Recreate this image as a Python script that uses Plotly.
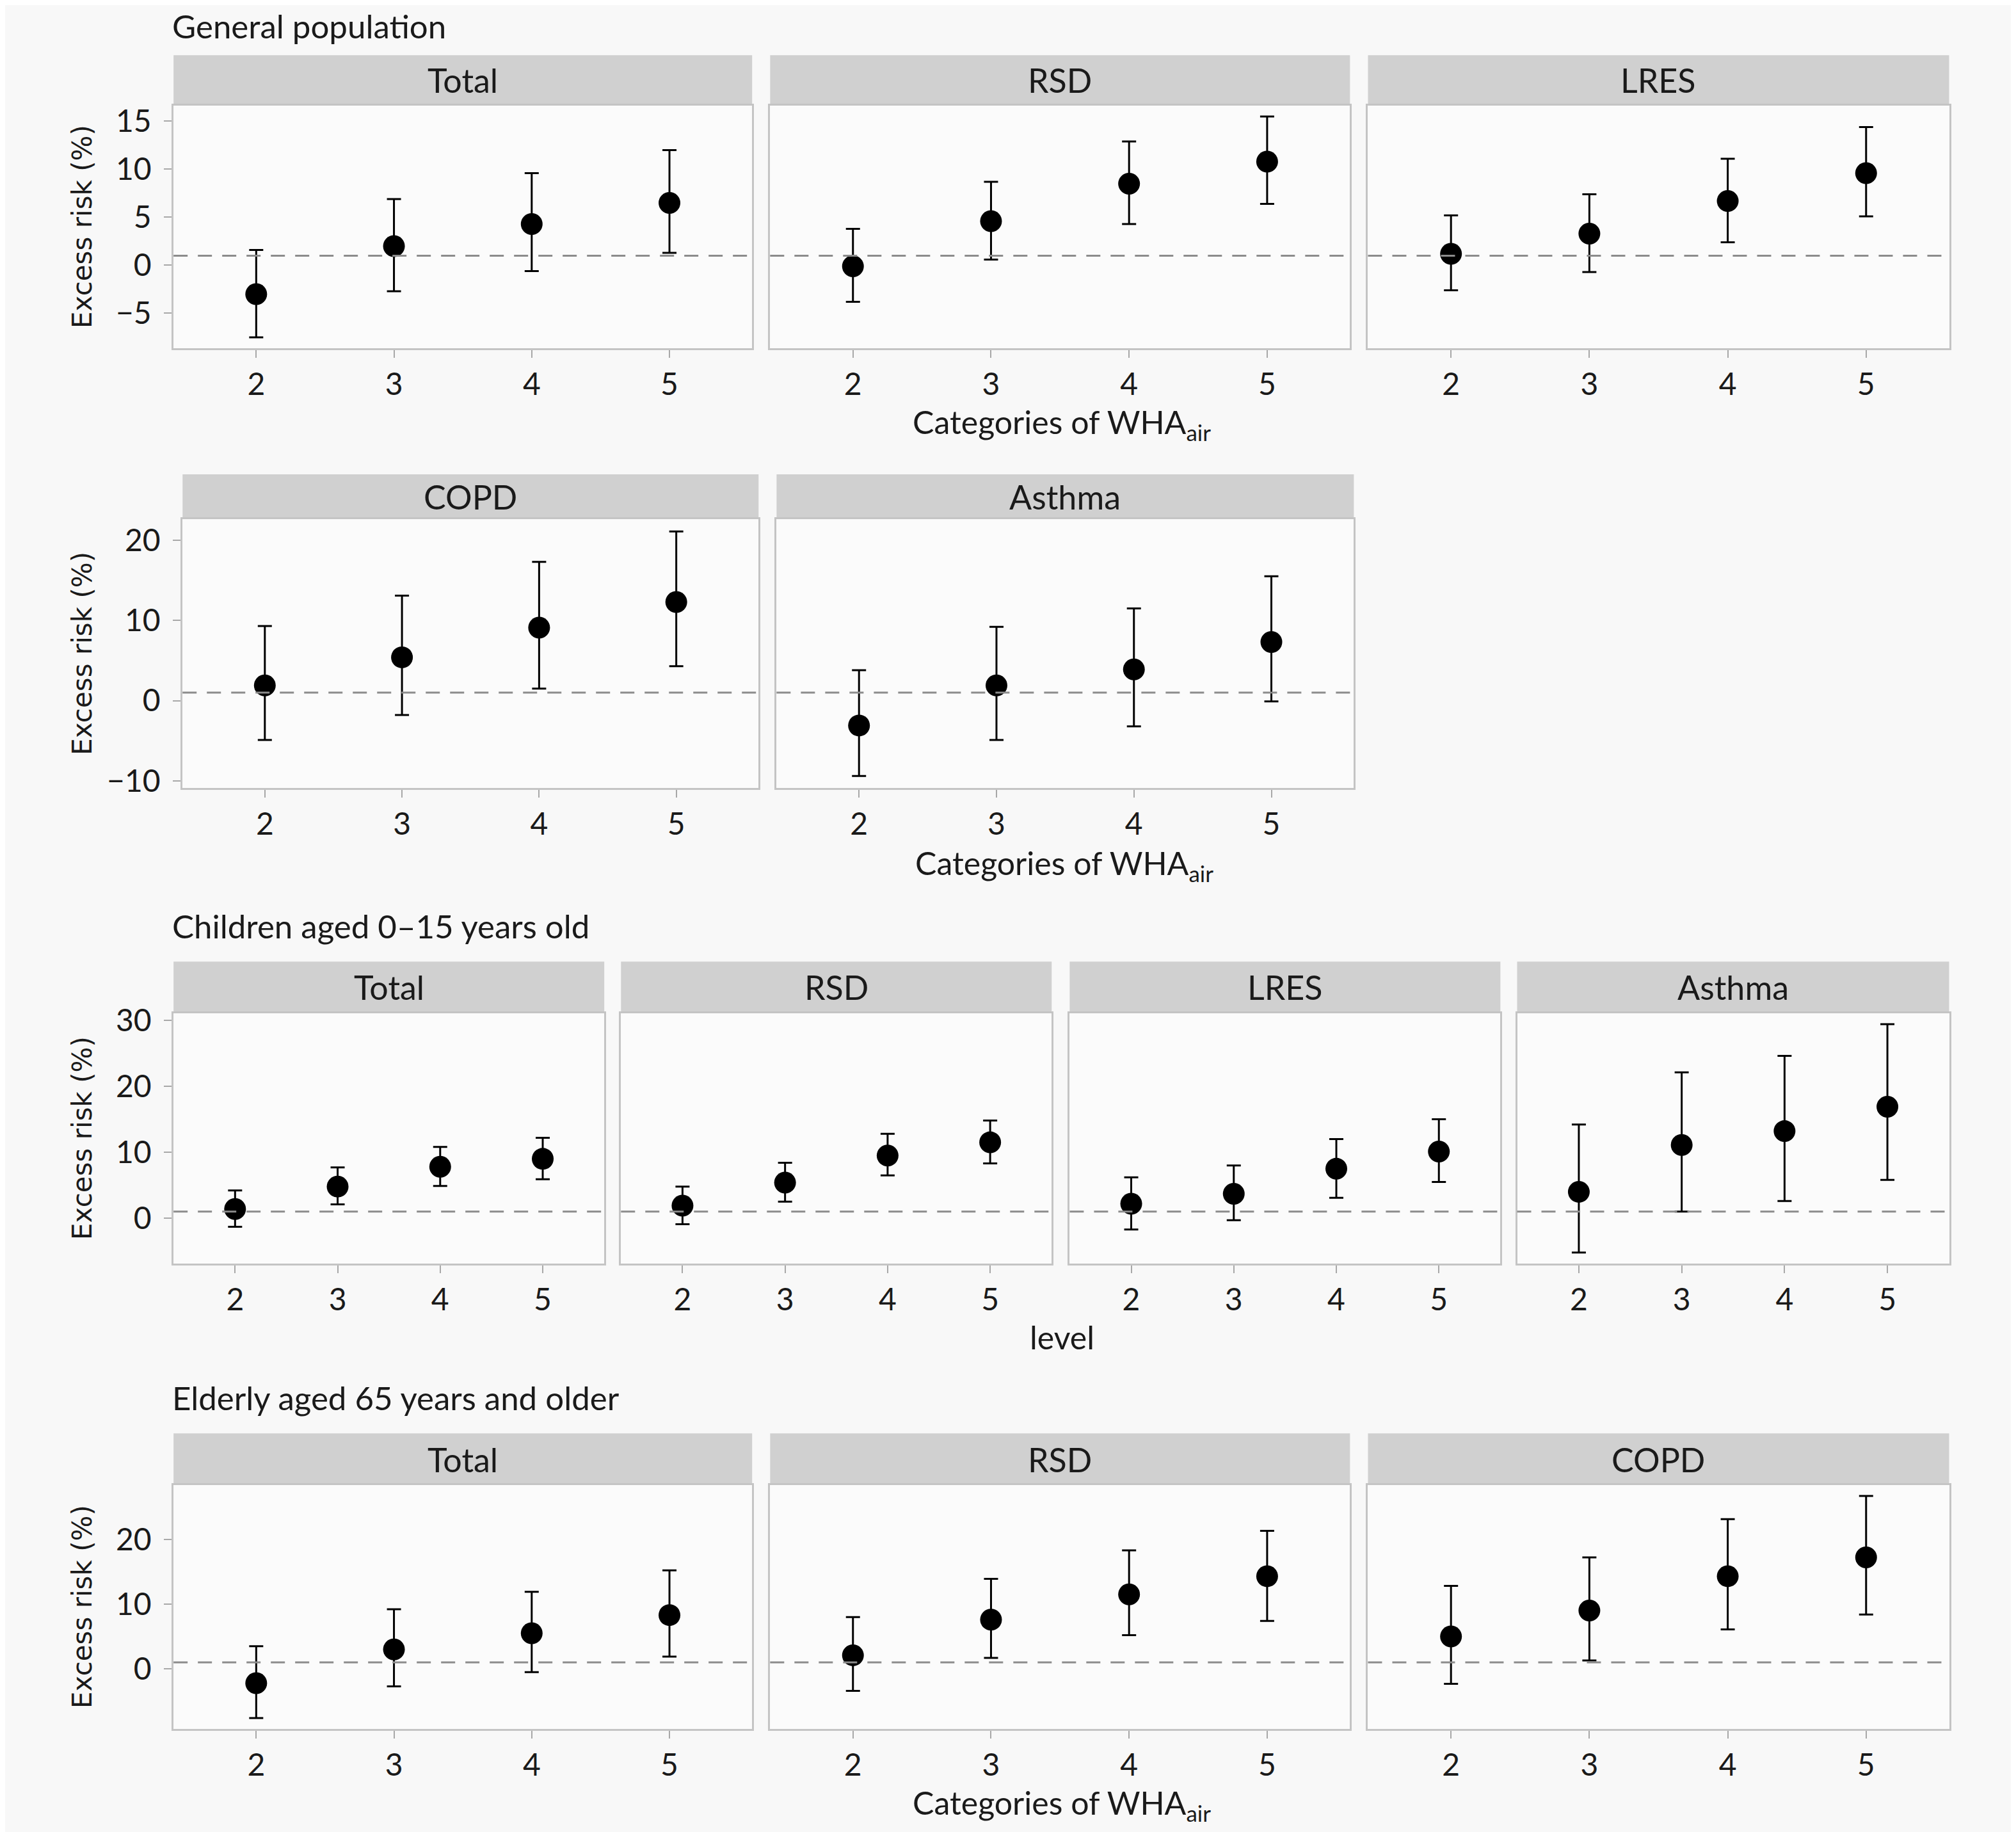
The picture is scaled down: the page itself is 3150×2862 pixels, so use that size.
import plotly.graph_objects as go

levels = [2, 3, 4, 5]

# General population
gen_total = [-3.0, 2.0, 4.3, 6.5]
gen_total_lo = [-7.5, -2.7, -0.6, 1.3]
gen_total_hi = [1.6, 6.9, 9.6, 12.0]
gen_rsd = [-0.1, 4.6, 8.5, 10.8]
gen_rsd_lo = [-3.8, 0.6, 4.3, 6.4]
gen_rsd_hi = [3.8, 8.7, 12.9, 15.5]
gen_lres = [1.2, 3.3, 6.7, 9.6]
gen_lres_lo = [-2.6, -0.7, 2.4, 5.1]
gen_lres_hi = [5.2, 7.4, 11.1, 14.4]
gen_copd = [1.9, 5.4, 9.1, 12.3]
gen_copd_lo = [-4.9, -1.8, 1.5, 4.3]
gen_copd_hi = [9.3, 13.1, 17.3, 21.1]
gen_asthma = [-3.1, 1.9, 3.9, 7.3]
gen_asthma_lo = [-9.4, -4.9, -3.2, -0.1]
gen_asthma_hi = [3.8, 9.2, 11.5, 15.5]

# Children aged 0-15
chi_total = [1.4, 4.8, 7.8, 9.0]
chi_total_lo = [-1.3, 2.1, 4.9, 5.9]
chi_total_hi = [4.2, 7.7, 10.8, 12.2]
chi_rsd = [1.9, 5.4, 9.5, 11.5]
chi_rsd_lo = [-0.9, 2.5, 6.5, 8.3]
chi_rsd_hi = [4.8, 8.4, 12.8, 14.8]
chi_lres = [2.2, 3.7, 7.5, 10.1]
chi_lres_lo = [-1.7, -0.3, 3.1, 5.5]
chi_lres_hi = [6.2, 8.0, 12.0, 15.0]
chi_asthma = [4.0, 11.1, 13.2, 16.9]
chi_asthma_lo = [-5.2, 1.0, 2.6, 5.8]
chi_asthma_hi = [14.2, 22.1, 24.6, 29.4]

# Elderly 65+
eld_total = [-2.2, 3.0, 5.5, 8.3]
eld_total_lo = [-7.6, -2.7, -0.5, 1.9]
eld_total_hi = [3.5, 9.2, 11.9, 15.2]
eld_rsd = [2.1, 7.6, 11.5, 14.3]
eld_rsd_lo = [-3.4, 1.7, 5.2, 7.4]
eld_rsd_hi = [8.0, 13.9, 18.3, 21.3]
eld_copd = [5.0, 9.0, 14.3, 17.2]
eld_copd_lo = [-2.3, 1.3, 6.1, 8.4]
eld_copd_hi = [12.8, 17.2, 23.1, 26.7]

ref_line = 1

# layout measured on a 1568 x 1425 grid, shifted 4 units for the page margin
W0, H0 = 1568, 1425
def px(x):
    return (x - 4) / W0
def py(y):
    return 1 - (y - 4) / H0

rows = [
    dict(strip=43, top=82, bot=271, yr=[-8.65, 16.65], dtick=5,
         panels=[((135, 585), "Total", gen_total, gen_total_lo, gen_total_hi),
                 ((599, 1050), "RSD", gen_rsd, gen_rsd_lo, gen_rsd_hi),
                 ((1064, 1516), "LRES", gen_lres, gen_lres_lo, gen_lres_hi)]),
    dict(strip=369, top=404, bot=613, yr=[-10.9, 22.6], dtick=10,
         panels=[((142, 590), "COPD", gen_copd, gen_copd_lo, gen_copd_hi),
                 ((604, 1053), "Asthma", gen_asthma, gen_asthma_lo, gen_asthma_hi)]),
    dict(strip=748, top=788, bot=983, yr=[-6.9, 31.1], dtick=10,
         panels=[((135, 470), "Total", chi_total, chi_total_lo, chi_total_hi),
                 ((483, 818), "RSD", chi_rsd, chi_rsd_lo, chi_rsd_hi),
                 ((832, 1167), "LRES", chi_lres, chi_lres_lo, chi_lres_hi),
                 ((1180, 1516), "Asthma", chi_asthma, chi_asthma_lo, chi_asthma_hi)]),
    dict(strip=1115, top=1155, bot=1345, yr=[-9.3, 28.4], dtick=10,
         panels=[((135, 585), "Total", eld_total, eld_total_lo, eld_total_hi),
                 ((599, 1050), "RSD", eld_rsd, eld_rsd_lo, eld_rsd_hi),
                 ((1064, 1516), "COPD", eld_copd, eld_copd_lo, eld_copd_hi)]),
]

FONT = "Lato"
TXT = "#1a1a1a"
fig = go.Figure()
shapes = []
annotations = []
layout = {}

k = 0
for row in rows:
    for j, ((x0, x1), label, est, lo, hi) in enumerate(row["panels"]):
        k += 1
        sfx = "" if k == 1 else str(k)
        fig.add_trace(go.Scatter(
            x=levels, y=est, mode="markers",
            marker=dict(color="black", size=34),
            error_y=dict(type="data", symmetric=False,
                         array=[h - e for h, e in zip(hi, est)],
                         arrayminus=[e - l for e, l in zip(est, lo)],
                         color="black", thickness=3, width=11),
            xaxis="x" + sfx, yaxis="y" + sfx, showlegend=False))
        layout["xaxis" + sfx] = dict(
            domain=[px(x0), px(x1)], anchor="y" + sfx, range=[1.4, 5.6],
            tickvals=levels, ticks="outside", ticklen=12, tickwidth=2,
            tickcolor="#a8a8a8", showgrid=False, zeroline=False, automargin=False,
            showline=True, mirror=True, linecolor="#c4c4c4", linewidth=3,
            tickfont=dict(family=FONT, size=48, color=TXT))
        first = j == 0
        layout["yaxis" + sfx] = dict(
            domain=[py(row["bot"]), py(row["top"])], anchor="x" + sfx,
            range=row["yr"], dtick=row["dtick"], tick0=0,
            showticklabels=first, ticks="outside" if first else "",
            ticklen=12, tickwidth=2, tickcolor="#a8a8a8",
            ticklabelstandoff=10, automargin=False,
            showgrid=False, zeroline=False,
            showline=True, mirror=True, linecolor="#c4c4c4", linewidth=3,
            tickfont=dict(family=FONT, size=48, color=TXT))
        # strip
        shapes.append(dict(type="rect", xref="paper", yref="paper",
                           x0=px(x0), x1=px(x1), y0=py(row["top"] - 1), y1=py(row["strip"]),
                           fillcolor="#d0d0d0", line=dict(width=0), layer="below"))
        annotations.append(dict(text=label, xref="paper", yref="paper",
                                x=px((x0 + x1) / 2), y=py((row["strip"] + row["top"]) / 2),
                                showarrow=False, xanchor="center", yanchor="middle",
                                font=dict(family=FONT, size=52, color=TXT)))
        # reference line
        shapes.append(dict(type="line", xref="x" + sfx + " domain", yref="y" + sfx,
                           x0=0, x1=1, y0=ref_line, y1=ref_line,
                           line=dict(color="#8c8c8c", width=3, dash="22px,16px")))
    annotations.append(dict(text="Excess risk (%)", xref="paper", yref="paper",
                            x=px(64), y=py((row["top"] + row["bot"]) / 2), textangle=-90,
                            showarrow=False, xanchor="center", yanchor="middle",
                            font=dict(family="DejaVu Sans, Verdana, sans-serif", size=42, color=TXT)))

# group titles (the first one hangs from the top edge)
annotations.append(dict(text="General population", xref="paper", yref="paper",
                        x=px(133), y=1, showarrow=False, xanchor="left", yanchor="top",
                        font=dict(family=FONT, size=51, color=TXT)))
for text, y in [("Children aged 0\u201315 years old", 720),
                ("Elderly aged 65 years and older", 1087)]:
    annotations.append(dict(text=text, xref="paper", yref="paper", x=px(133), y=py(y),
                            showarrow=False, xanchor="left", yanchor="middle",
                            font=dict(family=FONT, size=51, color=TXT)))

# x axis titles
for text, x, y in [("Categories of WHA<sub>air</sub>", 826, 330),
                   ("Categories of WHA<sub>air</sub>", 828, 673),
                   ("level", 826, 1040),
                   ("Categories of WHA<sub>air</sub>", 826, 1404)]:
    annotations.append(dict(text=text, xref="paper", yref="paper", x=px(x), y=py(y),
                            showarrow=False, xanchor="center", yanchor="middle",
                            font=dict(family=FONT, size=50, color=TXT)))

fig.update_layout(**layout)
fig.update_layout(
    width=3150, height=2862,
    margin=dict(l=0, r=0, t=0, b=0, pad=0),
    paper_bgcolor="#f8f8f8", plot_bgcolor="#fbfbfb",
    shapes=shapes, annotations=annotations,
)

fig.write_html("out.html")
